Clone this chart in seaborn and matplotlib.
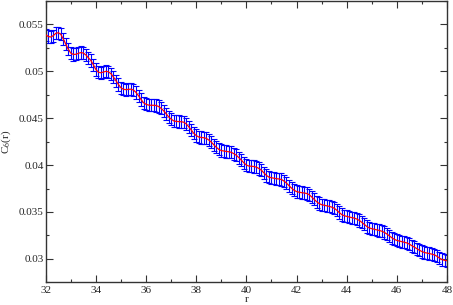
import numpy as np
import pandas as pd
import matplotlib
matplotlib.use('Agg')
import matplotlib.pyplot as plt
import seaborn as sns
from matplotlib.ticker import MultipleLocator

# r from 32 to 48 in steps of 0.1
r_start = 32.0
r_step = 0.1
c6 = [
    0.05390, 0.05372, 0.05366, 0.05380, 0.05405, 0.05412, 0.05395, 0.05345, 0.05290, 0.05235,
    0.05195, 0.05180, 0.05182, 0.05192, 0.05200, 0.05195, 0.05175, 0.05145, 0.05115, 0.05070,
    0.05020, 0.04990, 0.04985, 0.04992, 0.05000, 0.04995, 0.04975, 0.04940, 0.04900, 0.04860,
    0.04825, 0.04808, 0.04805, 0.04808, 0.04810, 0.04800, 0.04775, 0.04740, 0.04700, 0.04665,
    0.04648, 0.04640, 0.04638, 0.04638, 0.04636, 0.04625, 0.04605, 0.04580, 0.04548, 0.04515,
    0.04490, 0.04472, 0.04466, 0.04464, 0.04462, 0.04458, 0.04440, 0.04410, 0.04375, 0.04340,
    0.04315, 0.04300, 0.04295, 0.04292, 0.04285, 0.04268, 0.04245, 0.04218, 0.04190, 0.04168,
    0.04155, 0.04150, 0.04146, 0.04142, 0.04136, 0.04122, 0.04105, 0.04080, 0.04052, 0.04025,
    0.04000, 0.03990, 0.03987, 0.03985, 0.03978, 0.03964, 0.03945, 0.03918, 0.03890, 0.03872,
    0.03865, 0.03860, 0.03855, 0.03852, 0.03846, 0.03830, 0.03808, 0.03780, 0.03755, 0.03732,
    0.03718, 0.03711, 0.03707, 0.03703, 0.03698, 0.03685, 0.03662, 0.03635, 0.03610, 0.03590,
    0.03578, 0.03572, 0.03567, 0.03560, 0.03552, 0.03540, 0.03520, 0.03495, 0.03473, 0.03460,
    0.03453, 0.03447, 0.03440, 0.03435, 0.03425, 0.03410, 0.03390, 0.03368, 0.03346, 0.03330,
    0.03322, 0.03316, 0.03310, 0.03303, 0.03295, 0.03282, 0.03266, 0.03245, 0.03225, 0.03208,
    0.03197, 0.03190, 0.03183, 0.03177, 0.03170, 0.03157, 0.03140, 0.03125, 0.03108, 0.03092,
    0.03078, 0.03068, 0.03062, 0.03057, 0.03050, 0.03042, 0.03028, 0.03008, 0.02993, 0.02985,
    0.02980,
]
c6_err = 0.00065

r = r_start + r_step * np.arange(len(c6))
df = pd.DataFrame({'r': r, 'c6': c6})

sns.set_style('ticks')
plt.rcParams['font.family'] = ['Liberation Serif', 'DejaVu Serif']
plt.rcParams['mathtext.fontset'] = 'stix'

fig = plt.figure(figsize=(4.53, 3.05), dpi=100)
ax = fig.add_axes([0.1009, 0.0744, 0.8859, 0.9223])

ax.errorbar(df['r'], df['c6'], yerr=c6_err, fmt='none', ecolor='#0000ff',
            elinewidth=0.8, capsize=2.2, capthick=0.8, zorder=2)
sns.lineplot(data=df, x='r', y='c6', color='#ff0000', linewidth=0.9, ax=ax, zorder=3)

ax.set_xlim(32, 48)
ax.set_ylim(0.0275, 0.0575)
ax.xaxis.set_major_locator(MultipleLocator(2))
ax.xaxis.set_minor_locator(MultipleLocator(1))
ax.yaxis.set_major_locator(MultipleLocator(0.005))
ax.yaxis.set_minor_locator(MultipleLocator(0.0025))
ax.set_yticks([0.03, 0.035, 0.04, 0.045, 0.05, 0.055])
ax.set_yticklabels(['0.03', '0.035', '0.04', '0.045', '0.05', '0.055'])

ax.tick_params(which='both', direction='in', top=True, right=True,
               labelsize=8, width=0.8, color='#333333')
ax.tick_params(which='major', length=5)
ax.tick_params(which='minor', length=2.5)
ax.tick_params(axis='x', pad=3)
ax.tick_params(axis='y', pad=1.5)
for s in ax.spines.values():
    s.set_linewidth(1.0)
    s.set_color('#333333')

ax.set_xlabel('r', fontsize=8, labelpad=0)
ax.set_ylabel('C$_6$(r)', fontsize=8, labelpad=4)

fig.savefig('out.png', dpi=100)
